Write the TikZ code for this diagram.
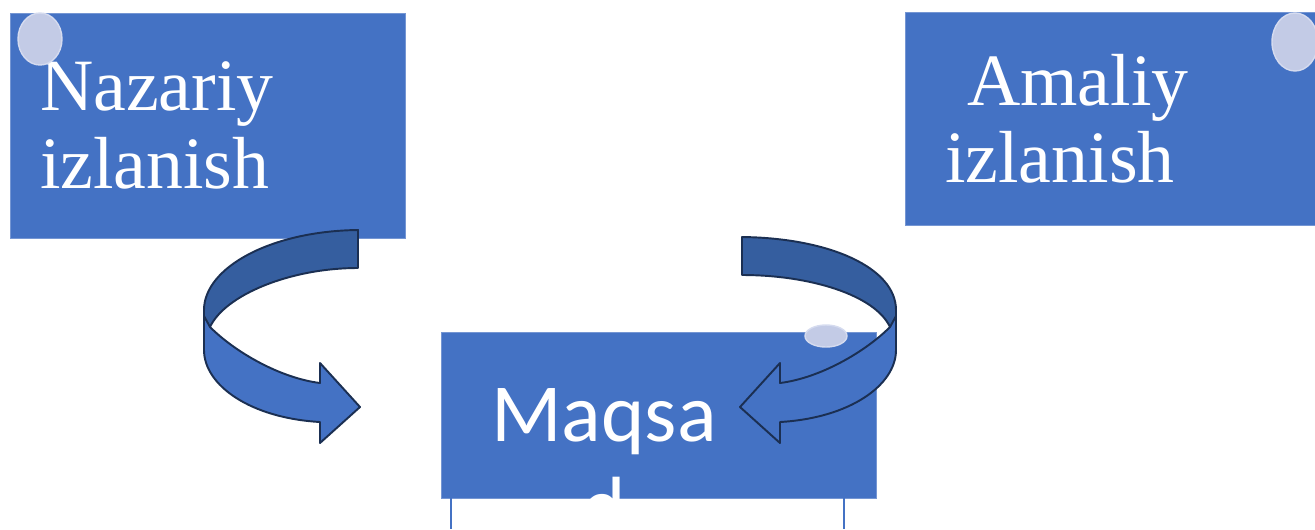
\documentclass[tikz,border=0pt]{standalone}
\usepackage{fontspec}
\setmainfont{Liberation Serif}
\newfontfamily\carlito{Carlito}
\definecolor{boxblue}{HTML}{4472C4}
\definecolor{boxedge}{HTML}{7596D3}
\definecolor{backblue}{HTML}{355E9F}
\definecolor{bandline}{HTML}{1B2F52}
\definecolor{glintfill}{HTML}{C3CBE6}
\definecolor{glintedge}{HTML}{D5DBEF}

\begin{document}
\begin{tikzpicture}[x=0.02cm, y=-0.02cm,
    box/.style={rectangle, fill=boxblue, draw=boxedge, line width=0.5pt,
        inner sep=0pt, text=white, font=\fontsize{42}{44}\selectfont, align=left},
    glint/.style={fill=glintfill, draw=glintedge, line width=0.8pt},
    bandback/.style={fill=backblue, draw=bandline, line width=1.1pt, line join=round},
    bandfront/.style={fill=boxblue, draw=bandline, line width=1.1pt, line join=round}]
    \useasboundingbox (0,0) rectangle (1315,529);

    % Boxes
    \node[box, minimum width=7.9cm, minimum height=4.5cm, text width=6.7cm]
        (nazariy) at (207.5,125.5) {Nazariy\\izlanish};
    \node[box, minimum width=8.4cm, minimum height=4.26cm, text width=6.8cm]
        (amaliy) at (1115,118.5) {\hspace*{0.44cm}Amaliy\\izlanish};
    \node[box, minimum width=8.7cm, minimum height=3.32cm] (maqsad) at (658.5,415) {};
    \node[text=white, inner sep=0pt, anchor=north, align=center,
        font=\carlito\fontsize{47}{53}\selectfont] (maqsadtext) at (604,388) {Maqsa\\d};

    % Frame of the text below the goal box
    \draw[boxblue, line width=1.1pt] (451,498) -- (451,529);
    \draw[boxblue, line width=1.1pt] (844,498) -- (844,529);

    % Glints
    \draw[glint] (40,39) ellipse [x radius=22, y radius=26];
    \draw[glint] (1295,42) ellipse [x radius=23, y radius=29];
    \draw[glint] (826,336) ellipse [x radius=21, y radius=11];

    % Curved arrows (right one is the mirror of the left one)
    \foreach \sx/\dx/\ty in {1/0/0, -1/1100/7} {
        \begin{scope}[shift={(\dx,0)}, xscale=\sx]
            \draw[bandback] (358,230+\ty) .. controls (270,231+\ty) and (204,268) .. (204,310)
                -- (204,322) -- (210,327) .. controls (225,295) and (290,268+\ty) .. (358,268+\ty) -- cycle;
            \draw[bandfront] (210,327) -- (204,316) -- (204,350)
                .. controls (204,385) and (250,418) .. (320,422)
                -- (320,443) -- (360,407) -- (320,363) -- (320,383)
                .. controls (280,378) and (235,352) .. (210,327) -- cycle;
        \end{scope}
    }
\end{tikzpicture}
\end{document}
